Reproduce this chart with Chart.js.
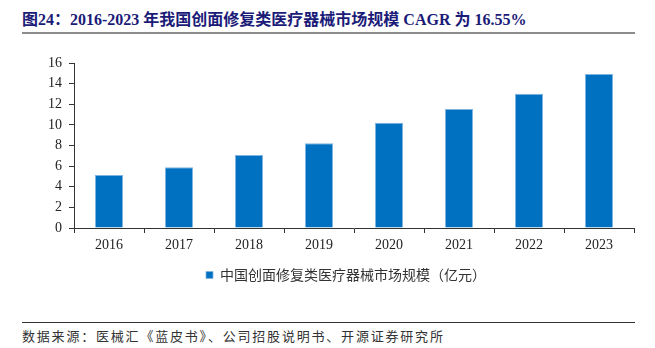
<!DOCTYPE html>
<html>
<head>
<meta charset="utf-8">
<script src="https://cdn.jsdelivr.net/npm/chart.js@4"></script>
<style>
    body { margin: 0; width: 655px; height: 348px; background: #fff; position: relative; overflow: hidden; }
    #title {
        position: absolute; left: 22px; top: 6px;
        font-family: "Liberation Serif", "Noto Sans CJK SC", serif;
        font-weight: bold; font-size: 16px; color: #1b1b78; white-space: nowrap;
    }
    #titleLine { position: absolute; left: 22px; top: 32px; width: 613px; height: 2px; background: #8c8c8c; }
    #chartBox { position: absolute; left: 0; top: 0; width: 655px; height: 292px; }
    #sourceLine { position: absolute; left: 22px; top: 322px; width: 613px; height: 1px; background: #333; }
    #source {
        position: absolute; left: 22px; top: 326px;
        font-family: "Noto Sans CJK SC", serif; font-size: 13px; color: #333;
        letter-spacing: 1.8px; white-space: nowrap;
    }
</style>
</head>
<body>
<div id="title">图24：2016-2023 年我国创面修复类医疗器械市场规模 CAGR 为 16.55%</div>
<div id="titleLine"></div>
<div id="chartBox"><canvas id="marketChart"></canvas></div>
<div id="sourceLine"></div>
<div id="source">数据来源：医械汇《蓝皮书》、公司招股说明书、开源证券研究所</div>
<script>
// Chart data
const years = ["2016", "2017", "2018", "2019", "2020", "2021", "2022", "2023"];
const marketSize = [5.14, 5.89, 7.09, 8.23, 10.21, 11.55, 13.01, 14.93];
const yTicks = [0, 2, 4, 6, 8, 10, 12, 14, 16];
const seriesName = "中国创面修复类医疗器械市场规模（亿元）";

const tickFont = { family: "'Liberation Serif', 'Times New Roman', serif", size: 14 };

// Nudge legend a little left so it sits under the plot like the original
const legendShift = {
    id: "legendShift",
    afterLayout(chart) {
        if (chart.legend) {
            chart.legend.left -= 8;
            chart.legend.right -= 8;
        }
    },
};

const ctx = document.getElementById("marketChart").getContext("2d");

const marketChart = new Chart(ctx, {
    type: "bar",
    data: {
        labels: years,
        datasets: [
            {
                label: seriesName,
                data: marketSize,
                backgroundColor: "#0070c0",
                borderColor: "#7fb4e0",
                borderWidth: { top: 1, left: 1, right: 1, bottom: 0 },
                barPercentage: 0.4,
                categoryPercentage: 1.0,
            },
        ],
    },
    options: {
        responsive: true,
        maintainAspectRatio: false,
        animation: false,
        layout: {
            padding: { top: 63, right: 21, left: 0, bottom: 0 },
        },
        scales: {
            x: {
                offset: true,
                grid: {
                    display: true,
                    offset: true,
                    drawOnChartArea: false,
                    drawTicks: true,
                    tickLength: 5,
                    color: "#333",
                },
                border: { display: true, color: "#333", width: 1 },
                ticks: { font: tickFont, color: "#222", padding: 4 },
                afterFit: (scale) => { scale.height = 30; },
            },
            y: {
                min: 0,
                max: 16,
                afterBuildTicks: (scale) => {
                    scale.ticks = yTicks.map((v) => ({ value: v }));
                },
                grid: {
                    display: true,
                    drawOnChartArea: false,
                    drawTicks: true,
                    tickLength: 5,
                    color: "#333",
                },
                border: { display: true, color: "#333", width: 1 },
                ticks: { font: tickFont, color: "#222", padding: 7 },
                afterFit: (scale) => { scale.width = 74; },
            },
        },
        plugins: {
            legend: {
                display: true,
                position: "bottom",
                fullSize: false,
                labels: {
                    font: { family: "'Noto Sans CJK SC', serif", size: 14 },
                    color: "#333",
                    boxWidth: 7,
                    boxHeight: 7,
                    padding: 10,
                },
            },
            tooltip: { enabled: false },
        },
    },
    plugins: [legendShift],
});
</script>
</body>
</html>
